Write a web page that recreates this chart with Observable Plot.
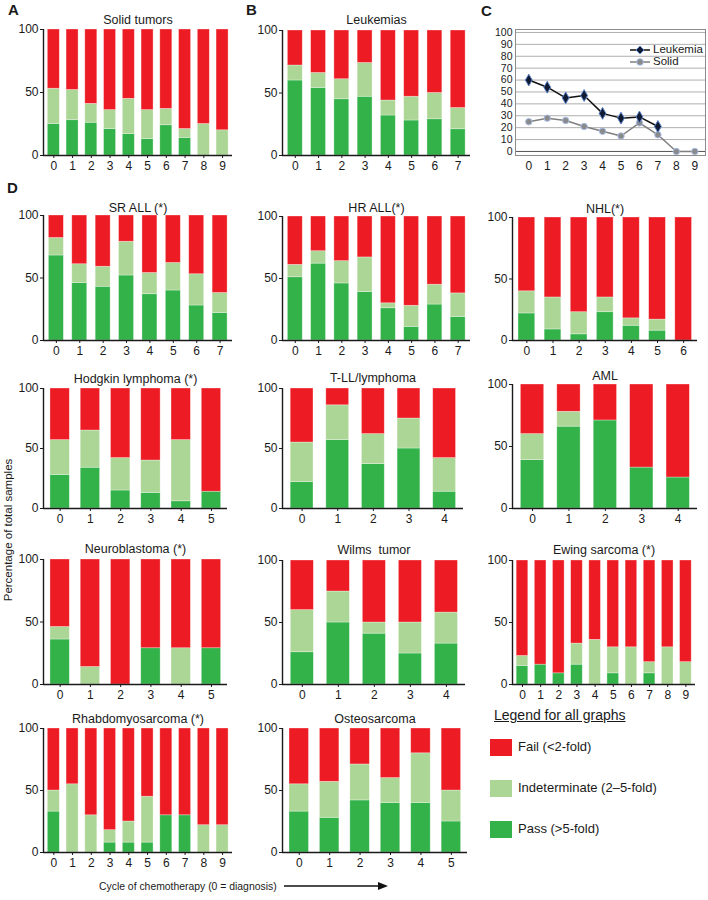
<!DOCTYPE html>
<html><head><meta charset="utf-8">
<script src="https://cdn.jsdelivr.net/npm/d3@7"></script>
<script src="https://cdn.jsdelivr.net/npm/@observablehq/plot@0.6"></script>
<style>
body{margin:0;background:#fff;font-family:"Liberation Sans",Arial,sans-serif;color:#1a1a1a;}
#root{position:relative;width:708px;height:900px;overflow:hidden;background:#fff;}
.lab{position:absolute;font-weight:bold;font-size:15px;line-height:15px;}
.txt{position:absolute;font-size:12px;line-height:14px;white-space:nowrap;}
</style></head><body><div id="root"></div>
<script>
// ---------- data ----------
const statusNames = ["Fail (<2-fold)", "Indeterminate (2–5-fold)", "Pass (>5-fold)"];
const statusColors = ["#ed1c24", "#acd695", "#33b24a"];

const solidTumorPass  = [25, 28, 26, 21, 17, 13, 24, 14, 0, 0];
const solidTumorIndet = [28, 24, 15, 15, 28, 23, 13, 7, 25, 20];
const leukemiaPass    = [60, 54, 45, 47, 32, 28, 29, 21];
const leukemiaIndet   = [12, 12, 16, 27, 12, 19, 21, 17];
const srAllPass   = [68, 46, 43, 52, 37, 40, 28, 22];
const srAllIndet  = [14, 15, 16, 27, 17, 22, 25, 16];
const hrAllPass   = [51, 62, 46, 39, 26, 11, 29, 19];
const hrAllIndet  = [10, 10, 18, 28, 4, 17, 16, 19];
const nhlPass     = [22, 9, 5, 23, 12, 8, 0];
const nhlIndet    = [18, 26, 18, 12, 6, 9, 0];
const hodgkinPass  = [28, 34, 15, 13, 6, 14];
const hodgkinIndet = [29, 31, 27, 27, 51, 0];
const tllPass     = [22, 57, 37, 50, 14];
const tllIndet    = [33, 29, 25, 25, 28];
const amlPass     = [39, 66, 71, 33, 25];
const amlIndet    = [21, 12, 0, 0, 0];
const neuroPass   = [36, 0, 0, 29, 0, 29];
const neuroIndet  = [10, 14, 0, 0, 29, 0];
const wilmsPass   = [26, 50, 41, 25, 33];
const wilmsIndet  = [34, 25, 9, 25, 25];
const ewingPass   = [15, 16, 9, 16, 0, 9, 0, 9, 0, 0];
const ewingIndet  = [8, 0, 0, 17, 36, 21, 30, 9, 30, 18];
const rhabdoPass  = [33, 0, 0, 8, 8, 8, 30, 30, 0, 0];
const rhabdoIndet = [17, 55, 30, 10, 17, 37, 0, 0, 22, 22];
const osteoPass   = [33, 28, 42, 40, 40, 25];
const osteoIndet  = [22, 29, 29, 20, 40, 25];

const yTicks = [0, 50, 100];
const lineTicks = d3.range(0, 101, 10);

// ---------- layout ----------
const root = document.getElementById("root");
const FONT = "Liberation Sans, Arial, sans-serif";
function place(el, left, top) {
  el.style.position = "absolute";
  el.style.left = left + "px";
  el.style.top = top + "px";
  root.appendChild(el);
}
function addText(cls, text, left, top, extra) {
  const d = document.createElement("div");
  d.className = cls; d.textContent = text;
  d.style.left = left + "px"; d.style.top = top + "px";
  if (extra) Object.assign(d.style, extra);
  root.appendChild(d);
  return d;
}

function barPanel(title, pass, indet, g) {
  const n = pass.length;
  const rows = [];
  pass.forEach((p, i) => {
    const t = p + indet[i];
    [[statusNames[2], 0, p], [statusNames[1], p, t], [statusNames[0], t, 100]].forEach(([s, a, b]) => {
      if (b - a > 0.01) rows.push({cycle: i, status: s, y1: a, y2: b});
    });
  });
  const mL = 40, mR = 6, mT = 26, mB = 22;
  const x0 = -0.55, x1 = n - 0.47;
  const plot = Plot.plot({
    width: g.w + mL + mR,
    height: (g.zero - g.top) + mT + mB,
    marginLeft: mL, marginRight: mR, marginTop: mT, marginBottom: mB,
    style: {fontFamily: FONT, fontSize: "12px", color: "#1a1a1a", background: "transparent", overflow: "visible"},
    x: {domain: [x0, x1]},
    y: {domain: [0, 100]},
    color: {domain: statusNames, range: statusColors},
    marks: [
      Plot.rect(rows, {x1: d => d.cycle - 0.32, x2: d => d.cycle + 0.32, y1: "y1", y2: "y2",
        fill: "status", stroke: "#ffffff", strokeOpacity: 0.45, strokeWidth: 0.7}),
      Plot.ruleY([0], {stroke: "#1a1a1a", strokeWidth: 1.4}),
      Plot.ruleX([x0], {stroke: "#1a1a1a", strokeWidth: 1.4}),
      Plot.axisY(yTicks, {tickSize: 3, tickPadding: 2, fontSize: 12, label: null}),
      Plot.axisX(d3.range(n), {tickSize: 3, tickPadding: 3, fontSize: 12, label: null}),
      Plot.text([title], {text: d => d, frameAnchor: "top", lineAnchor: "middle", dy: -(g.top - g.titleY), fontSize: 12.5, fill: "#1a1a1a"})
    ]
  });
  place(plot, g.axisX - mL, g.top - mT);
}

// Row A/B
barPanel("Solid tumors", solidTumorPass, solidTumorIndet, {axisX: 43, w: 189, top: 29, zero: 155, titleY: 19});
barPanel("Leukemias", leukemiaPass, leukemiaIndet, {axisX: 282, w: 188, top: 30, zero: 155, titleY: 19});
// D rows
barPanel("SR ALL (*)", srAllPass, srAllIndet, {axisX: 43, w: 189, top: 215, zero: 340, titleY: 207});
barPanel("HR ALL(*)", hrAllPass, hrAllIndet, {axisX: 282, w: 188, top: 216, zero: 340, titleY: 207});
barPanel("NHL(*)", nhlPass, nhlIndet, {axisX: 512, w: 185, top: 217, zero: 340, titleY: 208});
barPanel("Hodgkin lymphoma (*)", hodgkinPass, hodgkinIndet, {axisX: 43, w: 184, top: 388, zero: 508, titleY: 378});
barPanel("T-LL/lymphoma", tllPass, tllIndet, {axisX: 282, w: 181, top: 388, zero: 508, titleY: 377});
barPanel("AML", amlPass, amlIndet, {axisX: 512, w: 185, top: 384, zero: 508, titleY: 375});
barPanel("Neuroblastoma (*)", neuroPass, neuroIndet, {axisX: 43, w: 184, top: 559, zero: 684, titleY: 548});
barPanel("Wilms  tumor", wilmsPass, wilmsIndet, {axisX: 282, w: 183, top: 560, zero: 684, titleY: 549});
barPanel("Ewing sarcoma (*)", ewingPass, ewingIndet, {axisX: 512, w: 183, top: 560, zero: 684, titleY: 549});
barPanel("Rhabdomyosarcoma (*)", rhabdoPass, rhabdoIndet, {axisX: 43, w: 189, top: 728, zero: 852, titleY: 718});
barPanel("Osteosarcoma", osteoPass, osteoIndet, {axisX: 282, w: 185, top: 728, zero: 852, titleY: 718});

// Panel C
const cPlot = Plot.plot({
  width: 228, height: 155, marginLeft: 35, marginRight: 3, marginTop: 9, marginBottom: 20,
  style: {fontFamily: FONT, fontSize: "11px", color: "#1a1a1a", background: "transparent", overflow: "visible"},
  x: {domain: [-0.72, 9.58]},
  y: {domain: [-3.4, 102.5]},
  marks: [
    Plot.ruleY(lineTicks.slice(1), {stroke: "#9a9a9a", strokeWidth: 0.8}),
    Plot.ruleY([0], {stroke: "#555", strokeWidth: 1}),
    Plot.frame({stroke: "#8c8c8c", strokeWidth: 1}),
    Plot.axisY(lineTicks, {tickSize: 0, tickPadding: 3, fontSize: 10.5, label: null}),
    Plot.axisX(d3.range(10), {tickSize: 0, tickPadding: 6, fontSize: 12, label: null}),
    Plot.line(solidTumorPass, {x: (d, i) => i, y: d => d, stroke: "#7f7f7f", strokeWidth: 1.5}),
    Plot.dot(solidTumorPass, {x: (d, i) => i, y: d => d, r: 3.2, fill: "#8a8a8a", stroke: "#a9bde6", strokeWidth: 1}),
    Plot.line(leukemiaPass, {x: (d, i) => i, y: d => d, stroke: "#111", strokeWidth: 1.5}),
    Plot.dot(leukemiaPass, {x: (d, i) => i, y: d => d, symbol: "diamond", r: 3.6, fill: "#111a33", stroke: "#5b82c8", strokeWidth: 1})
  ]
});
place(cPlot, 480, 20);

// Panel C legend (inside plot box)
const cLegend = [["Leukemia", "#111", "diamond", "#111a33", "#5b82c8"], ["Solid", "#7f7f7f", "circle", "#8a8a8a", "#a9bde6"]];
cLegend.forEach(([name, lc, sym, fc, sc], k) => {
  const s = d3.create("svg").attr("width", 20).attr("height", 10);
  s.append("line").attr("x1", 0).attr("x2", 20).attr("y1", 5).attr("y2", 5).attr("stroke", lc).attr("stroke-width", 1.5);
  s.append("path").attr("transform", "translate(10,5)")
    .attr("d", d3.symbol(sym === "diamond" ? d3.symbolDiamond2 : d3.symbolCircle, sym === "diamond" ? 40 : 34)())
    .attr("fill", fc).attr("stroke", sc);
  place(s.node(), 630, 45 + k * 12);
  addText("txt", name, 653, 43 + k * 12, {fontSize: "11.5px", lineHeight: "13px"});
});

// Panel letters
addText("lab", "A", 8, 2);
addText("lab", "B", 246, 2);
addText("lab", "C", 481, 3);
addText("lab", "D", 7, 180);

// Shared axis titles
addText("txt", "Percentage of total samples", 8, 530, {
  fontSize: "11.5px", transform: "translate(-50%,-50%) rotate(-90deg)", transformOrigin: "center"
});
addText("txt", "Cycle of chemotherapy (0 = diagnosis)", 99, 880, {fontSize: "10.4px"});
const arrow = d3.create("svg").attr("width", 110).attr("height", 12);
arrow.append("line").attr("x1", 0).attr("x2", 96).attr("y1", 6).attr("y2", 6).attr("stroke", "#111").attr("stroke-width", 1.3);
arrow.append("path").attr("d", "M94,2 L104,6 L94,10 Z").attr("fill", "#111");
place(arrow.node(), 284, 880);

// Legend for all graphs
addText("txt", "Legend for all graphs", 494, 707, {textDecoration: "underline", fontSize: "14px", lineHeight: "16px"});
[0, 1, 2].forEach(k => {
  const sw = document.createElement("div");
  Object.assign(sw.style, {width: "22px", height: "17px", background: statusColors[k]});
  place(sw, 490, 739 + k * 41);
  addText("txt", statusNames[k], 518, 740 + k * 41, {fontSize: "13px"});
});
</script></body></html>
